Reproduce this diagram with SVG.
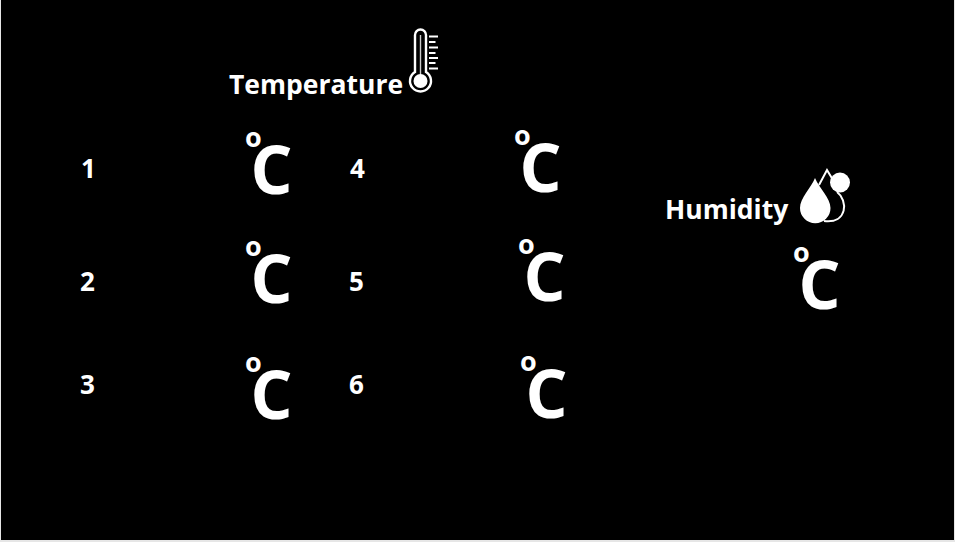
<svg xmlns="http://www.w3.org/2000/svg" width="955" height="542" viewBox="0 0 955 542">
<style>
text{font-family:"Open Sans","Noto Sans",sans-serif;fill:#fff;font-weight:700}
.t{font-size:26.500px}
.n{font-size:26px}
.c{font-size:66px}
.o{font-size:27px}
.ln{fill:none;stroke:#fff}
</style>
<rect width="955" height="542" fill="#e6e6e6"/>
<rect x="1" y="0" width="953" height="540" fill="#000"/>
<g id="temperature">
<text class="t" x="229" y="94">Temperature</text>
<g id="thermometer">
<path class="ln" stroke-width="2.400" d="M415 72V35a5.500 5.500 0 0 1 11 0V72a10.500 10.500 0 1 1-11 0Z"/>
<path class="ln" stroke-width="1.400" stroke-opacity="0.800" d="M420.500 35V76"/>
<circle cx="420.500" cy="81" r="7" fill="#fff"/>
<path class="ln" stroke-width="1.800" d="M429 36.500h9M429 42h6.500M429 47.500h9M429 53h6.500M429 58h9M429 63h6.500M429 68.500h9"/>
</g>
</g>
<g id="row1"><text class="n" x="81" y="178">1</text><text class="o" x="245" y="147">o</text><text class="c" x="250.500" y="193.500">C</text></g>
<g id="row2"><text class="n" x="80" y="291">2</text><text class="o" x="245" y="256">o</text><text class="c" x="250.500" y="302.500">C</text></g>
<g id="row3"><text class="n" x="80" y="394">3</text><text class="o" x="245" y="372">o</text><text class="c" x="250.500" y="418.500">C</text></g>
<g id="row4"><text class="n" x="350" y="178">4</text><text class="o" x="514" y="145">o</text><text class="c" x="519.500" y="191.500">C</text></g>
<g id="row5"><text class="n" x="349" y="291">5</text><text class="o" x="518" y="254">o</text><text class="c" x="523.500" y="300.500">C</text></g>
<g id="row6"><text class="n" x="349" y="394">6</text><text class="o" x="520" y="371">o</text><text class="c" x="525.500" y="417.500">C</text></g>
<g id="humidity">
<text class="t" x="665" y="219">Humidity</text>
<g id="drops">
<path fill="#fff" d="M815 178C811 188 800 198 800 208a15 15 0 0 0 30.500 0C830.500 198 819 188 815 178Z"/>
<circle cx="840" cy="182.500" r="10" fill="#fff"/>
<path class="ln" stroke-width="2" d="M819 185L827 170L833 180M837 192C848 200 848 224 824 221"/>
</g>
<text class="o" x="793" y="262">o</text><text class="c" x="798.500" y="308.500">C</text>
</g>
</svg>
